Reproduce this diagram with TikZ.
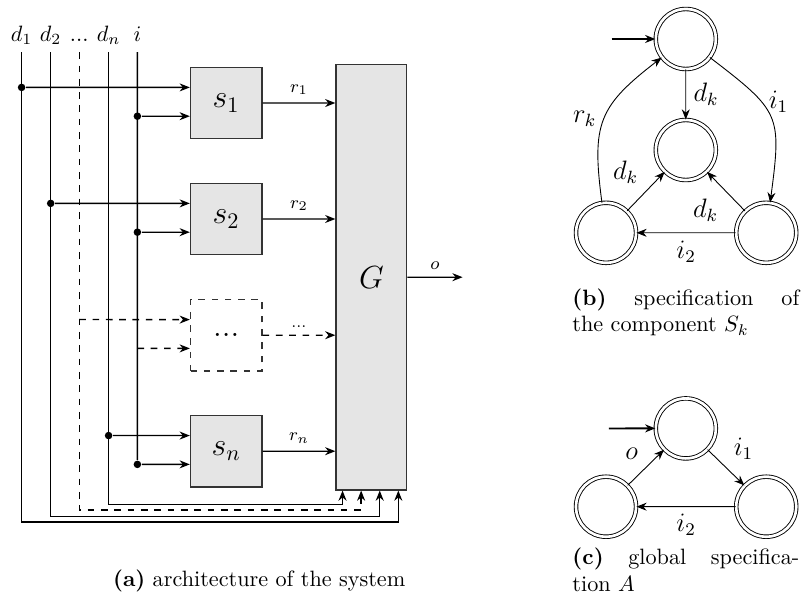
\documentclass[tikz,border=0pt]{standalone}
\usetikzlibrary{arrows.meta,calc}

\tikzset{
  block/.style={draw=black!80, fill=black!10, minimum size=1.13cm, inner sep=0pt, font=\Large},
  toplabel/.style={anchor=south, text height=1.5ex, text depth=.3ex},
  dot/.style={circle, fill, inner sep=0pt, minimum size=3.4pt},
  state/.style={circle, draw, thin, double, double distance=1.2pt, minimum size=0.95cm, inner sep=0pt},
  lbl/.style={font=\large},
  caption/.style={inner sep=0pt, text width=3.59cm, align=justify}
}

\begin{document}
\begin{tikzpicture}[scale=0.9497, >={Stealth[length=4.6pt,width=3.6pt]}, semithick]
  \useasboundingbox (0,0) rectangle (13.383,-10.2);

  % inputs
  \node [toplabel] (d1) at (0.36,-0.87) {$d_1$};
  \node [toplabel] (d2) at (0.845,-0.87) {$d_2$};
  \node [toplabel] (dd) at (1.32,-0.87) {...};
  \node [toplabel] (dn) at (1.81,-0.87) {$d_n$};
  \node [toplabel] (i) at (2.29,-0.87) {$i$};

  % components and G
  \node [block] (s1) at (3.77,-1.717) {$s_1$};
  \node [block] (s2) at (3.77,-3.65) {$s_2$};
  \node [block, dashed, fill=none] (sd) at (3.77,-5.587) {...};
  \node [block] (sn) at (3.77,-7.52) {$s_n$};
  \node [block, minimum width=1.12cm, minimum height=6.733cm] (G) at (6.19,-4.62) {$G$};

  \coordinate (s1a) at ($(s1.west)+(0,0.26)$);
  \coordinate (s1b) at ($(s1.west)+(0,-0.22)$);
  \coordinate (s2a) at ($(s2.west)+(0,0.26)$);
  \coordinate (s2b) at ($(s2.west)+(0,-0.22)$);
  \coordinate (sda) at ($(sd.west)+(0,0.26)$);
  \coordinate (sdb) at ($(sd.west)+(0,-0.22)$);
  \coordinate (sna) at ($(sn.west)+(0,0.26)$);
  \coordinate (snb) at ($(sn.west)+(0,-0.22)$);

  \coordinate (gdn) at ($(G.south west)+(0.12,0)$);
  \coordinate (gdd) at ($(G.south west)+(0.43,0)$);
  \coordinate (gd2) at ($(G.south west)+(0.74,0)$);
  \coordinate (gd1) at ($(G.south west)+(1.05,0)$);

  % branch points
  \node [dot] (j1) at (d1.south |- s1a) {};
  \node [dot] (j2) at (d2.south |- s2a) {};
  \node [dot] (jn) at (dn.south |- sna) {};
  \node [dot] (k1) at (i.south |- s1b) {};
  \node [dot] (k2) at (i.south |- s2b) {};
  \node [dot] (kn) at (i.south |- snb) {};
  \coordinate (jd) at (dd.south |- sda);
  \coordinate (kd) at (i.south |- sdb);

  % lines into G
  \draw [->] (d1.south) |- ($(gd1)+(0,-0.525)$) -- (gd1);
  \draw [->] (d2.south) |- ($(gd2)+(0,-0.43)$) -- (gd2);
  \draw [->, dashed] (dd.south) |- ($(gdd)+(0,-0.325)$) -- (gdd);
  \draw [->] (dn.south) |- ($(gdn)+(0,-0.235)$) -- (gdn);
  \draw (i.south) -- (kn);

  \draw [->] (j1) -- (s1a);
  \draw [->] (k1) -- (s1b);
  \draw [->] (j2) -- (s2a);
  \draw [->] (k2) -- (s2b);
  \draw [->, dashed] (jd) -- (sda);
  \draw [->, dashed] (kd) -- (sdb);
  \draw [->] (jn) -- (sna);
  \draw [->] (kn) -- (snb);

  % outputs
  \draw [->] (s1) -- (s1 -| G.west) node [midway, above, font=\footnotesize] {$r_1$};
  \draw [->] (s2) -- (s2 -| G.west) node [midway, above, font=\footnotesize] {$r_2$};
  \draw [->, dashed] (sd) -- (sd -| G.west) node [midway, above, font=\scriptsize] {...};
  \draw [->] (sn) -- (sn -| G.west) node [midway, above, font=\footnotesize] {$r_n$};
  \coordinate (out) at (7.71,-4.62);
  \draw [->] (G) -- (out) node [midway, above, font=\footnotesize] {$o$};

  \node [anchor=base] (capa) at (4.32,-9.78) {\textbf{(a)} architecture of the system};

  % specification of S_k
  \node [state] (q0) at (11.43,-0.65) {};
  \node [state] (q1) at (11.43,-2.5) {};
  \node [state] (q2) at (10.1,-3.88) {};
  \node [state] (q3) at (12.77,-3.88) {};
  \coordinate (q0in) at (10.195,-0.65);
  \draw [->, thick] (q0in) -- (q0);
  \begin{scope}[thin]
    \draw [->] (q0) -- (q1) node [midway, right, lbl] {$d_k$};
    \draw [->] (q0) to [bend left=30, looseness=1.45] node [pos=.35, right, lbl] {$i_1$} (q3);
    \draw [->] (q3) -- (q2) node [midway, below, lbl] {$i_2$};
    \draw [->] (q2) to [bend left=30, looseness=1.3] node [midway, left, lbl] {$r_k$} (q0);
    \draw [->] (q2) -- (q1) node [midway, above left, lbl] {$d_k$};
    \draw [->] (q3) -- (q1) node [midway, below left, lbl] {$d_k$};
  \end{scope}
  \node [caption, anchor=north west] (capb) at (9.53,-4.8)
    {\textbf{(b)} specification of\linebreak the component $S_k$};

  % global specification A
  \node [state] (p0) at (11.43,-7.14) {};
  \node [state] (p1) at (12.77,-8.445) {};
  \node [state] (p2) at (10.1,-8.445) {};
  \coordinate (p0in) at (10.15,-7.14);
  \draw [->, thick] (p0in) -- (p0);
  \begin{scope}[thin]
    \draw [->] (p0) -- (p1) node [midway, above right, lbl] {$i_1$};
    \draw [->] (p1) -- (p2) node [midway, below, lbl] {$i_2$};
    \draw [->] (p2) -- (p0) node [midway, above left, lbl] {$o$};
  \end{scope}
  \node [caption, anchor=north west] (capc) at (9.53,-9.12)
    {\textbf{(c)} global specifica-\linebreak tion $A$};
\end{tikzpicture}
\end{document}
